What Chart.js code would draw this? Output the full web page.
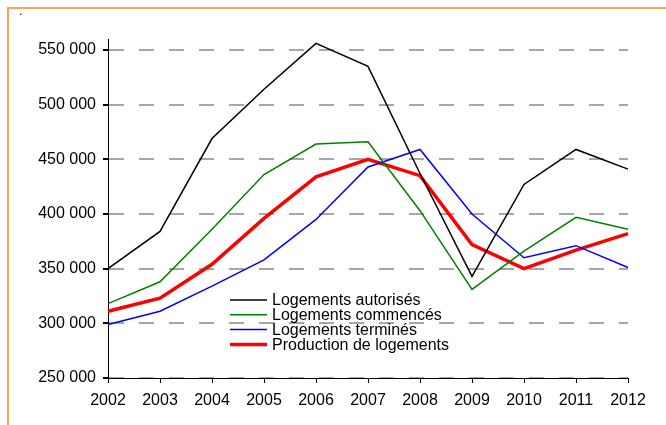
<!DOCTYPE html>
<html>
<head>
  <title>Logements</title>
  <script src="https://cdn.jsdelivr.net/npm/chart.js"></script>
  <style>
    html, body { margin: 0; padding: 0; background: #fff; overflow: hidden; }
    .frame {
      position: absolute; left: 7px; top: 7px; width: 800px; height: 600px;
      border-left: 2px solid #f5a45e; border-top: 2px solid #f5a45e;
    }
    .dot { position: absolute; left: 19px; top: 4px; font: 12px "Liberation Sans", Arial, sans-serif; color: #000; }
    #myChart { position: absolute; left: 0; top: 0; }
  </style>
</head>
<body>
  <div class="frame"></div>
  <div class="dot">.</div>
  <canvas id="myChart" width="666" height="425"></canvas>

  <script>
    var years = ['2002', '2003', '2004', '2005', '2006', '2007', '2008', '2009', '2010', '2011', '2012'];
    var autorises = [350000, 384000, 469000, 514000, 556000, 535000, 437000, 343000, 427000, 459000, 441000];
    var commences = [318000, 338000, 386000, 436000, 464000, 466000, 403000, 331000, 366000, 397000, 386000];
    var termines  = [299000, 311000, 334000, 358000, 395000, 443000, 459000, 400000, 360000, 371000, 351000];
    var production = [311000, 323000, 354000, 396000, 434000, 450000, 435000, 372000, 350000, 367000, 382000];
    var yTicks = [250000, 300000, 350000, 400000, 450000, 500000, 550000];

    var font = { family: '"Liberation Sans", Arial, sans-serif', size: 16 };

    // legend drawn inside the plot, like the original
    var innerLegend = {
      id: 'innerLegend',
      afterDraw: function(chart) {
        var c = chart.ctx;
        var x0 = 230, x1 = 267, tx = 272;
        var rows = [300, 314.7, 329.4, 344.5];
        c.save();
        c.font = '16px "Liberation Sans", Arial, sans-serif';
        c.textBaseline = 'middle';
        c.fillStyle = '#000';
        chart.data.datasets.forEach(function(ds, i) {
          c.strokeStyle = ds.borderColor;
          c.lineWidth = ds.borderWidth;
          c.beginPath();
          c.moveTo(x0, rows[i]);
          c.lineTo(x1, rows[i]);
          c.stroke();
          c.fillText(ds.label, tx, rows[i] + 1);
        });
        c.restore();
      }
    };

    var ctx = document.getElementById('myChart').getContext('2d');
    var chart = new Chart(ctx, {
      type: 'line',
      data: {
        labels: years,
        datasets: [
          { label: 'Logements autorisés', data: autorises, borderColor: '#000000', borderWidth: 1.5 },
          { label: 'Logements commencés', data: commences, borderColor: '#008000', borderWidth: 1.5 },
          { label: 'Logements terminés', data: termines, borderColor: '#0000ff', borderWidth: 1.5 },
          { label: 'Production de logements', data: production, borderColor: '#ff0000', borderWidth: 3.5 }
        ]
      },
      options: {
        responsive: false,
        animation: false,
        devicePixelRatio: 1,
        layout: { padding: { left: 0, top: 39, right: 38, bottom: 0 } },
        elements: { point: { radius: 0 }, line: { tension: 0 } },
        plugins: { legend: { display: false }, tooltip: { enabled: false } },
        scales: {
          x: {
            offset: false,
            grid: { drawOnChartArea: false, tickLength: 5, tickColor: '#000', color: '#000' },
            border: { color: '#000', width: 1 },
            ticks: { font: font, color: '#000', padding: 8, maxRotation: 0, autoSkip: false },
            afterFit: function(scale) { scale.height = 47; }
          },
          y: {
            min: 250000,
            max: 560000,
            afterBuildTicks: function(scale) {
              scale.ticks = yTicks.map(function(v) { return { value: v }; });
            },
            grid: { color: '#a6a6a6', lineWidth: 2, tickLength: 5, tickColor: '#000' },
            border: { color: '#000', width: 1, dash: [15, 15] },
            ticks: {
              font: font, color: '#000', padding: 7,
              callback: function(v) { return v.toString().replace(/\B(?=(\d{3})+(?!\d))/g, ' '); }
            },
            afterFit: function(scale) { scale.width = 108; }
          }
        }
      },
      plugins: [innerLegend]
    });
  </script>
</body>
</html>
